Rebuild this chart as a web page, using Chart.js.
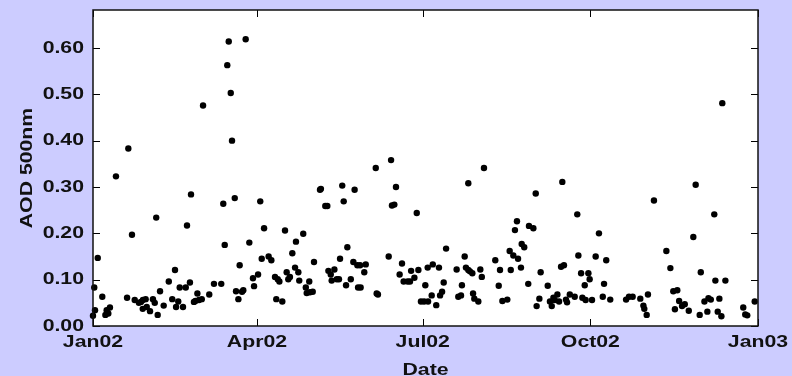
<!DOCTYPE html>
<html>
<head>
<meta charset="utf-8">
<script src="https://cdn.jsdelivr.net/npm/chart.js@4/dist/chart.umd.min.js"></script>
<style>
  html, body { margin: 0; padding: 0; background: #ccccff; }
  #wrap { width: 792px; height: 376px; position: relative; }
</style>
</head>
<body>
<div id="wrap"><canvas id="c" width="792" height="376"></canvas></div>
<script>
// Daily aerosol optical depth at 500 nm, 2002.
// Day offsets are counted from 1 January 2002.
const days = [
  0, 0.7, 1.1, 2.6, 5.1, 6.8, 7.5, 8.4, 9.3, 12.6,
  18.7, 19.4, 21.4, 22.9, 25.2, 26.3, 27.3, 27.4, 28.9, 29.5,
  31.3, 32.9, 33.9, 34.7, 35.5, 36.8, 38.8, 41.6, 43.5, 45,
  45.6, 46.8, 47.6, 49.4, 50.9, 51.6, 53.2, 53.8, 55.4, 56.2,
  57.3, 58.2, 59.7, 60.4, 63.8, 66.4, 70.4, 71.5, 72.3, 73.7,
  74.5, 75.6, 76.3, 77.8, 78.5, 79.8, 80.5, 81.8, 82.5, 83.8,
  85.8, 87.8, 88.4, 90.6, 91.8, 92.6, 93.9, 96.4, 97.9, 99.9,
  100.6, 101.4, 102.3, 103.9, 105.4, 106.3, 107.2, 108.1, 109.4, 110.9,
  111.4, 112.7, 113.2, 115.4, 116.8, 117.3, 118.7, 119.1, 120.6, 121.3,
  124.6, 125.1, 127.5, 128.6, 129.2, 130.5, 131, 132.5, 133.8, 135,
  135.6, 136.8, 137.6, 138.9, 139.6, 141.5, 142.9, 143.6, 145.1, 145.5,
  146.6, 146.9, 148.9, 149.7, 155.2, 155.7, 156.4, 162.3, 163.6, 164.1,
  165.4, 166.3, 168.3, 169.6, 170.5, 172.7, 174, 174.6, 176.4, 177.7,
  178.6, 180, 181.7, 182.4, 183.7, 183.9, 185.9, 186.5, 188.4, 189.9,
  190.5, 191.6, 192.5, 193.8, 199.6, 200.5, 202, 202.5, 204, 204.7,
  206, 206, 206.9, 208.2, 208.6, 209.3, 211.5, 212.6, 213.4, 214.6,
  220.8, 222.7, 223.4, 224.7, 227.4, 228.7, 229.3, 230.7, 231.6, 232.7,
  233.3, 234.9, 235.3, 236.7, 238.9, 239.3, 241.7, 243, 243.5, 245,
  245.7, 249.6, 250.8, 251.8, 252.7, 253.4, 254.9, 255.8, 256.9, 257.6,
  258.5, 259.6, 260.2, 261.7, 264.4, 265.8, 266.4, 267.9, 268.6, 269.9,
  270.4, 271.9, 272.6, 273.9, 275.9, 277.7, 279.8, 280.5, 281.7, 283.9,
  292.6, 294.2, 296.2, 300.4, 302.1, 302.6, 303.9, 304.6, 307.9, 314.7,
  316.9, 318.5, 319.4, 320.7, 321.7, 323.3, 324.8, 327, 329.5, 330.8,
  333, 333.6, 335.6, 337.2, 337.8, 339.1, 341, 341.6, 342.9, 343.8,
  344.9, 345.4, 347.1, 356.9, 358, 359.1, 363.2
];
const aod = [
  0.022, 0.083, 0.034, 0.147, 0.063, 0.024, 0.034, 0.027, 0.040, 0.323,
  0.061, 0.383, 0.197, 0.056, 0.050, 0.052, 0.037, 0.056, 0.058, 0.041,
  0.032, 0.058, 0.050, 0.234, 0.024, 0.075, 0.044, 0.096, 0.058, 0.121,
  0.041, 0.053, 0.083, 0.041, 0.083, 0.217, 0.094, 0.284, 0.052, 0.054,
  0.070, 0.056, 0.058, 0.476, 0.068, 0.091, 0.091, 0.264, 0.175, 0.563,
  0.614, 0.503, 0.400, 0.276, 0.075, 0.058, 0.131, 0.074, 0.077, 0.619,
  0.180, 0.103, 0.086, 0.111, 0.269, 0.145, 0.211, 0.150, 0.142, 0.106,
  0.058, 0.101, 0.096, 0.053, 0.206, 0.116, 0.101, 0.106, 0.157, 0.126,
  0.182, 0.116, 0.098, 0.199, 0.083, 0.071, 0.096, 0.073, 0.074, 0.138,
  0.294, 0.296, 0.259, 0.259, 0.119, 0.111, 0.098, 0.122, 0.101, 0.101,
  0.145, 0.303, 0.269, 0.088, 0.170, 0.101, 0.138, 0.294, 0.131, 0.083,
  0.131, 0.083, 0.116, 0.133, 0.341, 0.070, 0.068, 0.150, 0.358, 0.260,
  0.262, 0.300, 0.111, 0.135, 0.096, 0.096, 0.096, 0.119, 0.104, 0.244,
  0.121, 0.053, 0.053, 0.088, 0.126, 0.053, 0.066, 0.133, 0.045, 0.126,
  0.066, 0.074, 0.094, 0.167, 0.122, 0.063, 0.066, 0.088, 0.150, 0.126,
  0.308, 0.121, 0.118, 0.114, 0.070, 0.059, 0.053, 0.122, 0.106, 0.341,
  0.142, 0.087, 0.121, 0.054, 0.057, 0.162, 0.121, 0.152, 0.207, 0.226,
  0.145, 0.126, 0.177, 0.170, 0.091, 0.216, 0.211, 0.286, 0.043, 0.059,
  0.116, 0.087, 0.053, 0.043, 0.061, 0.056, 0.068, 0.053, 0.128, 0.311,
  0.131, 0.057, 0.051, 0.068, 0.063, 0.241, 0.152, 0.114, 0.061, 0.088,
  0.056, 0.114, 0.101, 0.056, 0.150, 0.200, 0.063, 0.091, 0.142, 0.057,
  0.057, 0.063, 0.063, 0.059, 0.044, 0.037, 0.024, 0.068, 0.271, 0.162,
  0.125, 0.075, 0.036, 0.077, 0.054, 0.043, 0.047, 0.033, 0.192, 0.305,
  0.024, 0.116, 0.053, 0.031, 0.060, 0.057, 0.241, 0.098, 0.031, 0.059,
  0.021, 0.481, 0.098, 0.040, 0.025, 0.023, 0.053
];

// Date axis: quarter boundaries (day offsets) and their labels.
const xTickDays = [0, 90, 181, 273, 365];
const xTickLabels = ['Jan02', 'Apr02', 'Jul02', 'Oct02', 'Jan03'];
const yTicks = [0, 0.1, 0.2, 0.3, 0.4, 0.5, 0.6];
const yMax = 0.682;

const FONT = '"Liberation Sans", Arial, Helvetica, sans-serif';
const TEXT_STRETCH = 1.25;   // extended bold face: glyphs widened along the baseline
const points = days.map((d, i) => ({ x: d, y: aod[i] }));

const canvas = document.getElementById('c');
const ctx2d = canvas.getContext('2d');

// Widen every label along its own baseline (works for rotated titles too),
// and report the widened size so the layout accounts for it.
(function extendText(ctx, k) {
  const fill = ctx.fillText.bind(ctx);
  const measure = ctx.measureText.bind(ctx);
  ctx.fillText = function (text, x, y) {
    ctx.save();
    ctx.translate(x, y);
    ctx.scale(k, 1);
    fill(text, 0, 0);
    ctx.restore();
  };
  ctx.measureText = function (text) {
    const m = measure(text);
    return {
      width: m.width * k,
      actualBoundingBoxAscent: m.actualBoundingBoxAscent,
      actualBoundingBoxDescent: m.actualBoundingBoxDescent,
      actualBoundingBoxLeft: m.actualBoundingBoxLeft * k,
      actualBoundingBoxRight: m.actualBoundingBoxRight * k
    };
  };
})(ctx2d, TEXT_STRETCH);

// Frame around the plot area with inward tick marks on all four sides.
const framePlugin = {
  id: 'frame',
  afterDatasetsDraw(chart) {
    const { ctx, chartArea: a, scales: { x, y } } = chart;
    const len = 7;
    ctx.save();
    ctx.strokeStyle = '#000';
    ctx.lineWidth = 1;
    ctx.beginPath();
    x.ticks.forEach(t => {
      const px = Math.round(x.getPixelForValue(t.value)) + 0.5;
      ctx.moveTo(px, a.bottom); ctx.lineTo(px, a.bottom - len);
      ctx.moveTo(px, a.top); ctx.lineTo(px, a.top + len);
    });
    y.ticks.forEach(t => {
      const py = Math.round(y.getPixelForValue(t.value)) + 0.5;
      ctx.moveTo(a.left, py); ctx.lineTo(a.left + len, py);
      ctx.moveTo(a.right, py); ctx.lineTo(a.right - len, py);
    });
    ctx.stroke();
    ctx.lineWidth = 1.5;
    ctx.strokeStyle = '#111';
    ctx.strokeRect(a.left, a.top, a.right - a.left, a.bottom - a.top);
    ctx.restore();
  }
};

// White plot area behind the points.
const plotBgPlugin = {
  id: 'plotBg',
  beforeDraw(chart) {
    const { ctx, chartArea: a } = chart;
    ctx.save();
    ctx.fillStyle = '#ffffff';
    ctx.fillRect(a.left, a.top, a.right - a.left, a.bottom - a.top);
    ctx.restore();
  }
};

new Chart(canvas, {
  type: 'scatter',
  data: {
    datasets: [{
      data: points,
      backgroundColor: '#000',
      borderWidth: 0,
      pointRadius: 3.2,
      pointHoverRadius: 3.2,
      clip: false
    }]
  },
  options: {
    responsive: false,
    animation: false,
    events: [],
    layout: { padding: { top: 10, right: 34, left: 0, bottom: 0 } },
    plugins: { legend: { display: false }, tooltip: { enabled: false } },
    scales: {
      x: {
        type: 'linear',
        min: 0, max: 365,
        afterBuildTicks(scale) { scale.ticks = xTickDays.map(v => ({ value: v })); },
        afterFit(scale) { scale.height = 50; scale.paddingLeft = 0; scale.paddingRight = 0; },
        grid: { display: false, drawTicks: false },
        border: { display: false },
        ticks: {
          autoSkip: false, maxRotation: 0, padding: 6,
          color: '#111',
          font: { family: FONT, size: 17, weight: 'bold' },
          callback: (v) => xTickLabels[xTickDays.indexOf(v)] ?? ''
        },
        title: {
          display: true, text: 'Date', color: '#111',
          font: { family: FONT, size: 17, weight: 'bold', lineHeight: 0.6 },
          padding: { top: 0, bottom: 1 }
        }
      },
      y: {
        min: 0, max: yMax,
        afterBuildTicks(scale) { scale.ticks = yTicks.map(v => ({ value: v })); },
        afterFit(scale) { scale.width = 93; scale.paddingTop = 0; scale.paddingBottom = 0; },
        grid: { display: false, drawTicks: false },
        border: { display: false },
        ticks: {
          padding: 9, color: '#111',
          font: { family: FONT, size: 17, weight: 'bold' },
          callback: (v) => Number(v).toFixed(2)
        },
        title: {
          display: true, text: 'AOD 500nm', color: '#111',
          font: { family: FONT, size: 17, weight: 'bold' },
          padding: { top: 17, bottom: 0 }
        }
      }
    }
  },
  plugins: [plotBgPlugin, framePlugin]
});
</script>
</body>
</html>
